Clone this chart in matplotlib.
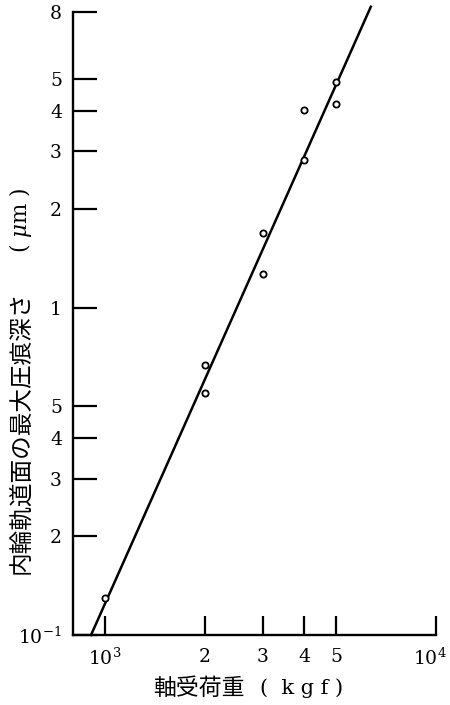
import numpy as np
import matplotlib
matplotlib.use("Agg")
import matplotlib.pyplot as plt
import matplotlib.transforms as mtransforms
from matplotlib.ticker import FixedLocator, FixedFormatter, NullLocator

plt.rcParams['font.family'] = ['DejaVu Serif']
plt.rcParams['mathtext.fontset'] = 'dejavuserif'

# measured points: load (kgf) vs max indentation depth (um)
load = [1000, 2000, 2000, 3000, 3000, 4000, 4000, 5000, 5000]
depth = [0.13, 0.67, 0.55, 1.69, 1.27, 4.02, 2.83, 4.89, 4.19]

# fitted line depth = d0 * (load / p0) ** n
fit_n = 2.27
fit_p0 = 907.0
fit_d0 = 0.1
fit_dmax = 8.3

xticks = [1000, 2000, 3000, 4000, 5000, 10000]
xticklabels = ['$10^3$', '2', '3', '4', '5', '$10^4$']
yticks = [0.1, 0.2, 0.3, 0.4, 0.5, 1, 2, 3, 4, 5, 8]
yticklabels = ['$10^{-1}$', '2', '3', '4', '5', '1', '2', '3', '4', '5', '8']

W, H = 450, 705
fig = plt.figure(figsize=(W / 100, H / 100), dpi=100)
ax = fig.add_axes([73 / W, (H - 635) / H, (436 - 73) / W, (635 - 12) / H])

# fit line
p_end = fit_p0 * (fit_dmax / fit_d0) ** (1 / fit_n)
px = np.array([fit_p0, p_end])
py = fit_d0 * (px / fit_p0) ** fit_n
ax.plot(px, py, color='black', lw=1.8, clip_on=False, zorder=2)

ax.plot(load, depth, 'o', mfc='white', mec='black', ms=4.5, mew=1.3, zorder=3)

ax.set_xscale('log')
ax.set_yscale('log')
ax.set_xlim(800, 10000)
ax.set_ylim(0.1, 8)

ax.xaxis.set_major_locator(FixedLocator(xticks))
ax.xaxis.set_major_formatter(FixedFormatter(xticklabels))
ax.yaxis.set_major_locator(FixedLocator(yticks))
ax.yaxis.set_major_formatter(FixedFormatter(yticklabels))
ax.xaxis.set_minor_locator(NullLocator())
ax.yaxis.set_minor_locator(NullLocator())

ax.spines['top'].set_visible(False)
ax.spines['right'].set_visible(False)
for s in ['left', 'bottom']:
    ax.spines[s].set_linewidth(1.7)

ax.tick_params(axis='y', direction='in', length=17, width=1.6, pad=8, labelsize=13.5)
ax.tick_params(axis='x', direction='in', length=14, width=1.6, pad=9, labelsize=13.5)

# last x label sits against the right edge, nudge it in a little
lbl = ax.get_xticklabels()[-1]
lbl.set_transform(lbl.get_transform() + mtransforms.ScaledTranslation(-6 / 100, 0, fig.dpi_scale_trans))

jp = ['Noto Sans CJK JP', 'DejaVu Sans']
fig.text(21 / W, 1 - 432 / H, '内輪軌道面の最大圧痕深さ', rotation=90,
         ha='center', va='center', fontsize=17, family=jp)
fig.text(21 / W, 1 - 220 / H, '( $\\mu$m )', rotation=90,
         ha='center', va='center', fontsize=15.5)
fig.text(199 / W, 1 - 688 / H, '軸受荷重', ha='center', va='center',
         fontsize=16.5, family=jp)
fig.text(302 / W, 1 - 688 / H, '(  k g f )', ha='center', va='center',
         fontsize=15)

fig.savefig('out.png', dpi=100)
